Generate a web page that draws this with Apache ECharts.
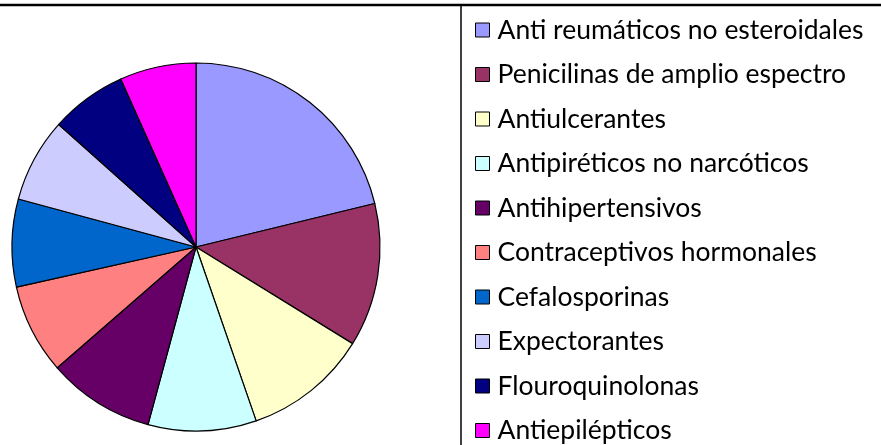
<!DOCTYPE html>
<html>
<head>
<meta charset="utf-8">
<script src="https://cdn.jsdelivr.net/npm/echarts@6/dist/echarts.min.js"></script>
<style>
  html, body { margin: 0; padding: 0; background: #fff; }
  #chart { width: 881px; height: 445px; }
</style>
</head>
<body>
<div id="chart"></div>
<script>
// categorias y porcentajes
const categories = [
  'Anti reumáticos no esteroidales',
  'Penicilinas de amplio espectro',
  'Antiulcerantes',
  'Antipiréticos no narcóticos',
  'Antihipertensivos',
  'Contraceptivos hormonales',
  'Cefalosporinas',
  'Expectorantes',
  'Flouroquinolonas',
  'Antiepilépticos'
]
const values = [21.2, 12.6, 10.9, 9.5, 9.4, 7.9, 7.7, 7.4, 6.7, 6.7]
const colors = ['#9999FF', '#993366', '#FFFFCC', '#CCFFFF', '#660066',
  '#FF8080', '#0066CC', '#CCCCFF', '#000080', '#FF00FF']

const myChart = echarts.init(document.getElementById('chart'))
myChart.setOption({
  animation: false,
  color: colors,
  legend: {
    orient: 'vertical',
    left: 470,
    top: 11,
    height: 600, // que no parta en dos columnas
    itemWidth: 14,
    itemHeight: 14,
    itemGap: 16.5,
    icon: 'rect',
    itemStyle: { borderColor: '#000', borderWidth: 1 },
    textStyle: { fontFamily: 'Lato', fontSize: 26.5, lineHeight: 28, color: '#000', padding: [0, 0, 0, 3] },
    data: categories
  },
  graphic: [
    { type: 'line', shape: { x1: 0, y1: 5, x2: 881, y2: 5 }, style: { stroke: '#000', lineWidth: 2.5 } },
    { type: 'line', shape: { x1: 461, y1: 5, x2: 461, y2: 445 }, style: { stroke: '#000', lineWidth: 1.5 } }
  ],
  series: [
    {
      type: 'pie',
      center: [196, 247],
      radius: [0, 184],
      startAngle: 90,
      clockwise: true,
      label: { show: false },
      labelLine: { show: false },
      itemStyle: { borderColor: '#000', borderWidth: 1.2 },
      emphasis: { disabled: true },
      data: categories.map((name, i) => ({ name: name, value: values[i] }))
    }
  ]
})
</script>
</body>
</html>
